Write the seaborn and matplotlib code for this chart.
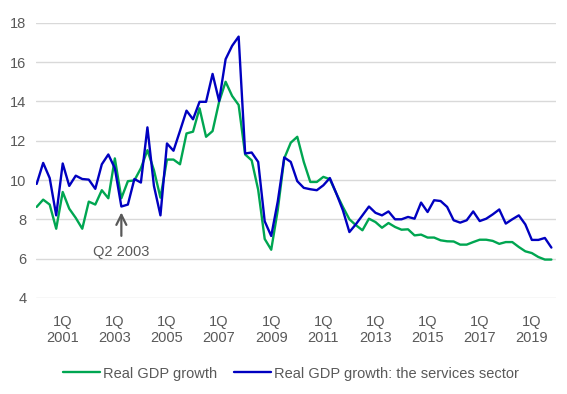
import pandas as pd
import matplotlib
matplotlib.use("Agg")
import matplotlib.pyplot as plt
import seaborn as sns

# Quarterly real GDP growth (%), 2000Q1 - 2019Q4
quarters = [f"{y}Q{q}" for y in range(2000, 2020) for q in range(1, 5)]

gdp_total = [
    8.63, 9.0, 8.75, 7.52, 9.39, 8.54, 8.07, 7.52, 8.9, 8.75,
    9.48, 9.07, 11.1, 9.07, 9.94, 9.98, 10.6, 11.52, 10.5, 9.1,
    11.04, 11.04, 10.8, 12.37, 12.46, 13.65, 12.2, 12.49, 13.98, 15.0,
    14.28, 13.82, 11.3, 11.0, 9.5, 7.0, 6.45, 8.46, 11.1, 11.9,
    12.2, 10.92, 9.9, 9.9, 10.16, 10.04, 9.31, 8.63, 8.0, 7.7,
    7.44, 8.03, 7.86, 7.57, 7.81, 7.61, 7.47, 7.49, 7.18, 7.22,
    7.07, 7.07, 6.93, 6.88, 6.87, 6.71, 6.71, 6.84, 6.96, 6.96,
    6.9, 6.75, 6.84, 6.84, 6.59, 6.37, 6.28, 6.08, 5.95, 5.95,
]

gdp_services = [
    9.8, 10.87, 10.1, 8.2, 10.84, 9.7, 10.22, 10.05, 10.02, 9.55,
    10.8, 11.3, 10.6, 8.65, 8.75, 10.05, 9.87, 12.68, 9.7, 8.2,
    11.86, 11.49, 12.5, 13.53, 13.09, 13.98, 13.98, 15.4, 14.02, 16.15,
    16.83, 17.3, 11.35, 11.4, 10.92, 7.9, 7.15, 8.9, 11.15, 10.92,
    9.94, 9.6, 9.53, 9.48, 9.73, 10.1, 9.31, 8.46, 7.35, 7.75,
    8.2, 8.65, 8.33, 8.2, 8.4, 8.0, 8.0, 8.12, 8.03, 8.85,
    8.37, 8.97, 8.93, 8.63, 7.95, 7.83, 7.95, 8.4, 7.91, 8.03,
    8.25, 8.5, 7.78, 8.0, 8.2, 7.74, 6.95, 6.95, 7.05, 6.56,
]

tick_years = list(range(2001, 2020, 2))
y_ticks = [4, 6, 8, 10, 12, 14, 16, 18]

series_names = ["Real GDP growth", "Real GDP growth: the services sector"]
colors = ["#00a651", "#0000c0"]
grey = "#595959"
fs = 10.5


def build_frame():
    df = pd.DataFrame({
        "idx": list(range(len(quarters))) * 2,
        "value": gdp_total + gdp_services,
        "series": [series_names[0]] * len(quarters) + [series_names[1]] * len(quarters),
    })
    return df


def main():
    sns.set_theme(style="whitegrid")
    plt.rcParams["font.family"] = ["Liberation Sans", "DejaVu Sans"]

    df = build_frame()

    fig = plt.figure(figsize=(5.67, 3.94), dpi=100)
    ax = fig.add_axes([0.0635, 0.244, 0.917, 0.698])

    sns.lineplot(data=df, x="idx", y="value", hue="series",
                 palette=dict(zip(series_names, colors)), linewidth=1.7,
                 ax=ax, legend=False)

    ax.set_xlim(-0.1, 79.7)
    ax.set_ylim(4, 18)
    ax.set_yticks(y_ticks)
    ax.set_xticks([quarters.index(f"{y}Q1") for y in tick_years])
    ax.set_xticklabels([f"1Q\n{y}" for y in tick_years])
    ax.tick_params(axis="both", colors=grey, labelsize=fs, length=0)
    ax.tick_params(axis="x", pad=12)
    ax.tick_params(axis="y", pad=7)
    ax.set_xlabel("")
    ax.set_ylabel("")

    ax.grid(axis="x", visible=False)
    ax.grid(axis="y", color="#d9d9d9", linewidth=1.0)
    for s in ax.spines.values():
        s.set_visible(False)

    # arrow pointing at the Q2 2003 dip
    ax.annotate("Q2 2003", xy=(quarters.index("2003Q2"), 8.35),
                xytext=(quarters.index("2003Q2"), 6.35),
                ha="center", va="center", fontsize=fs, color=grey,
                arrowprops=dict(arrowstyle="->", color=grey, lw=1.6,
                                mutation_scale=18, shrinkA=4, shrinkB=0))

    handles = [plt.Line2D([], [], color=c, linewidth=1.7) for c in colors]
    fig.legend(handles, series_names, loc="center", bbox_to_anchor=(0.513, 0.052),
               ncol=2, frameon=False, fontsize=fs, handlelength=2.5,
               handletextpad=0.2, columnspacing=1.2, labelcolor=grey)

    fig.savefig("out.png", dpi=100)


if __name__ == "__main__":
    main()
